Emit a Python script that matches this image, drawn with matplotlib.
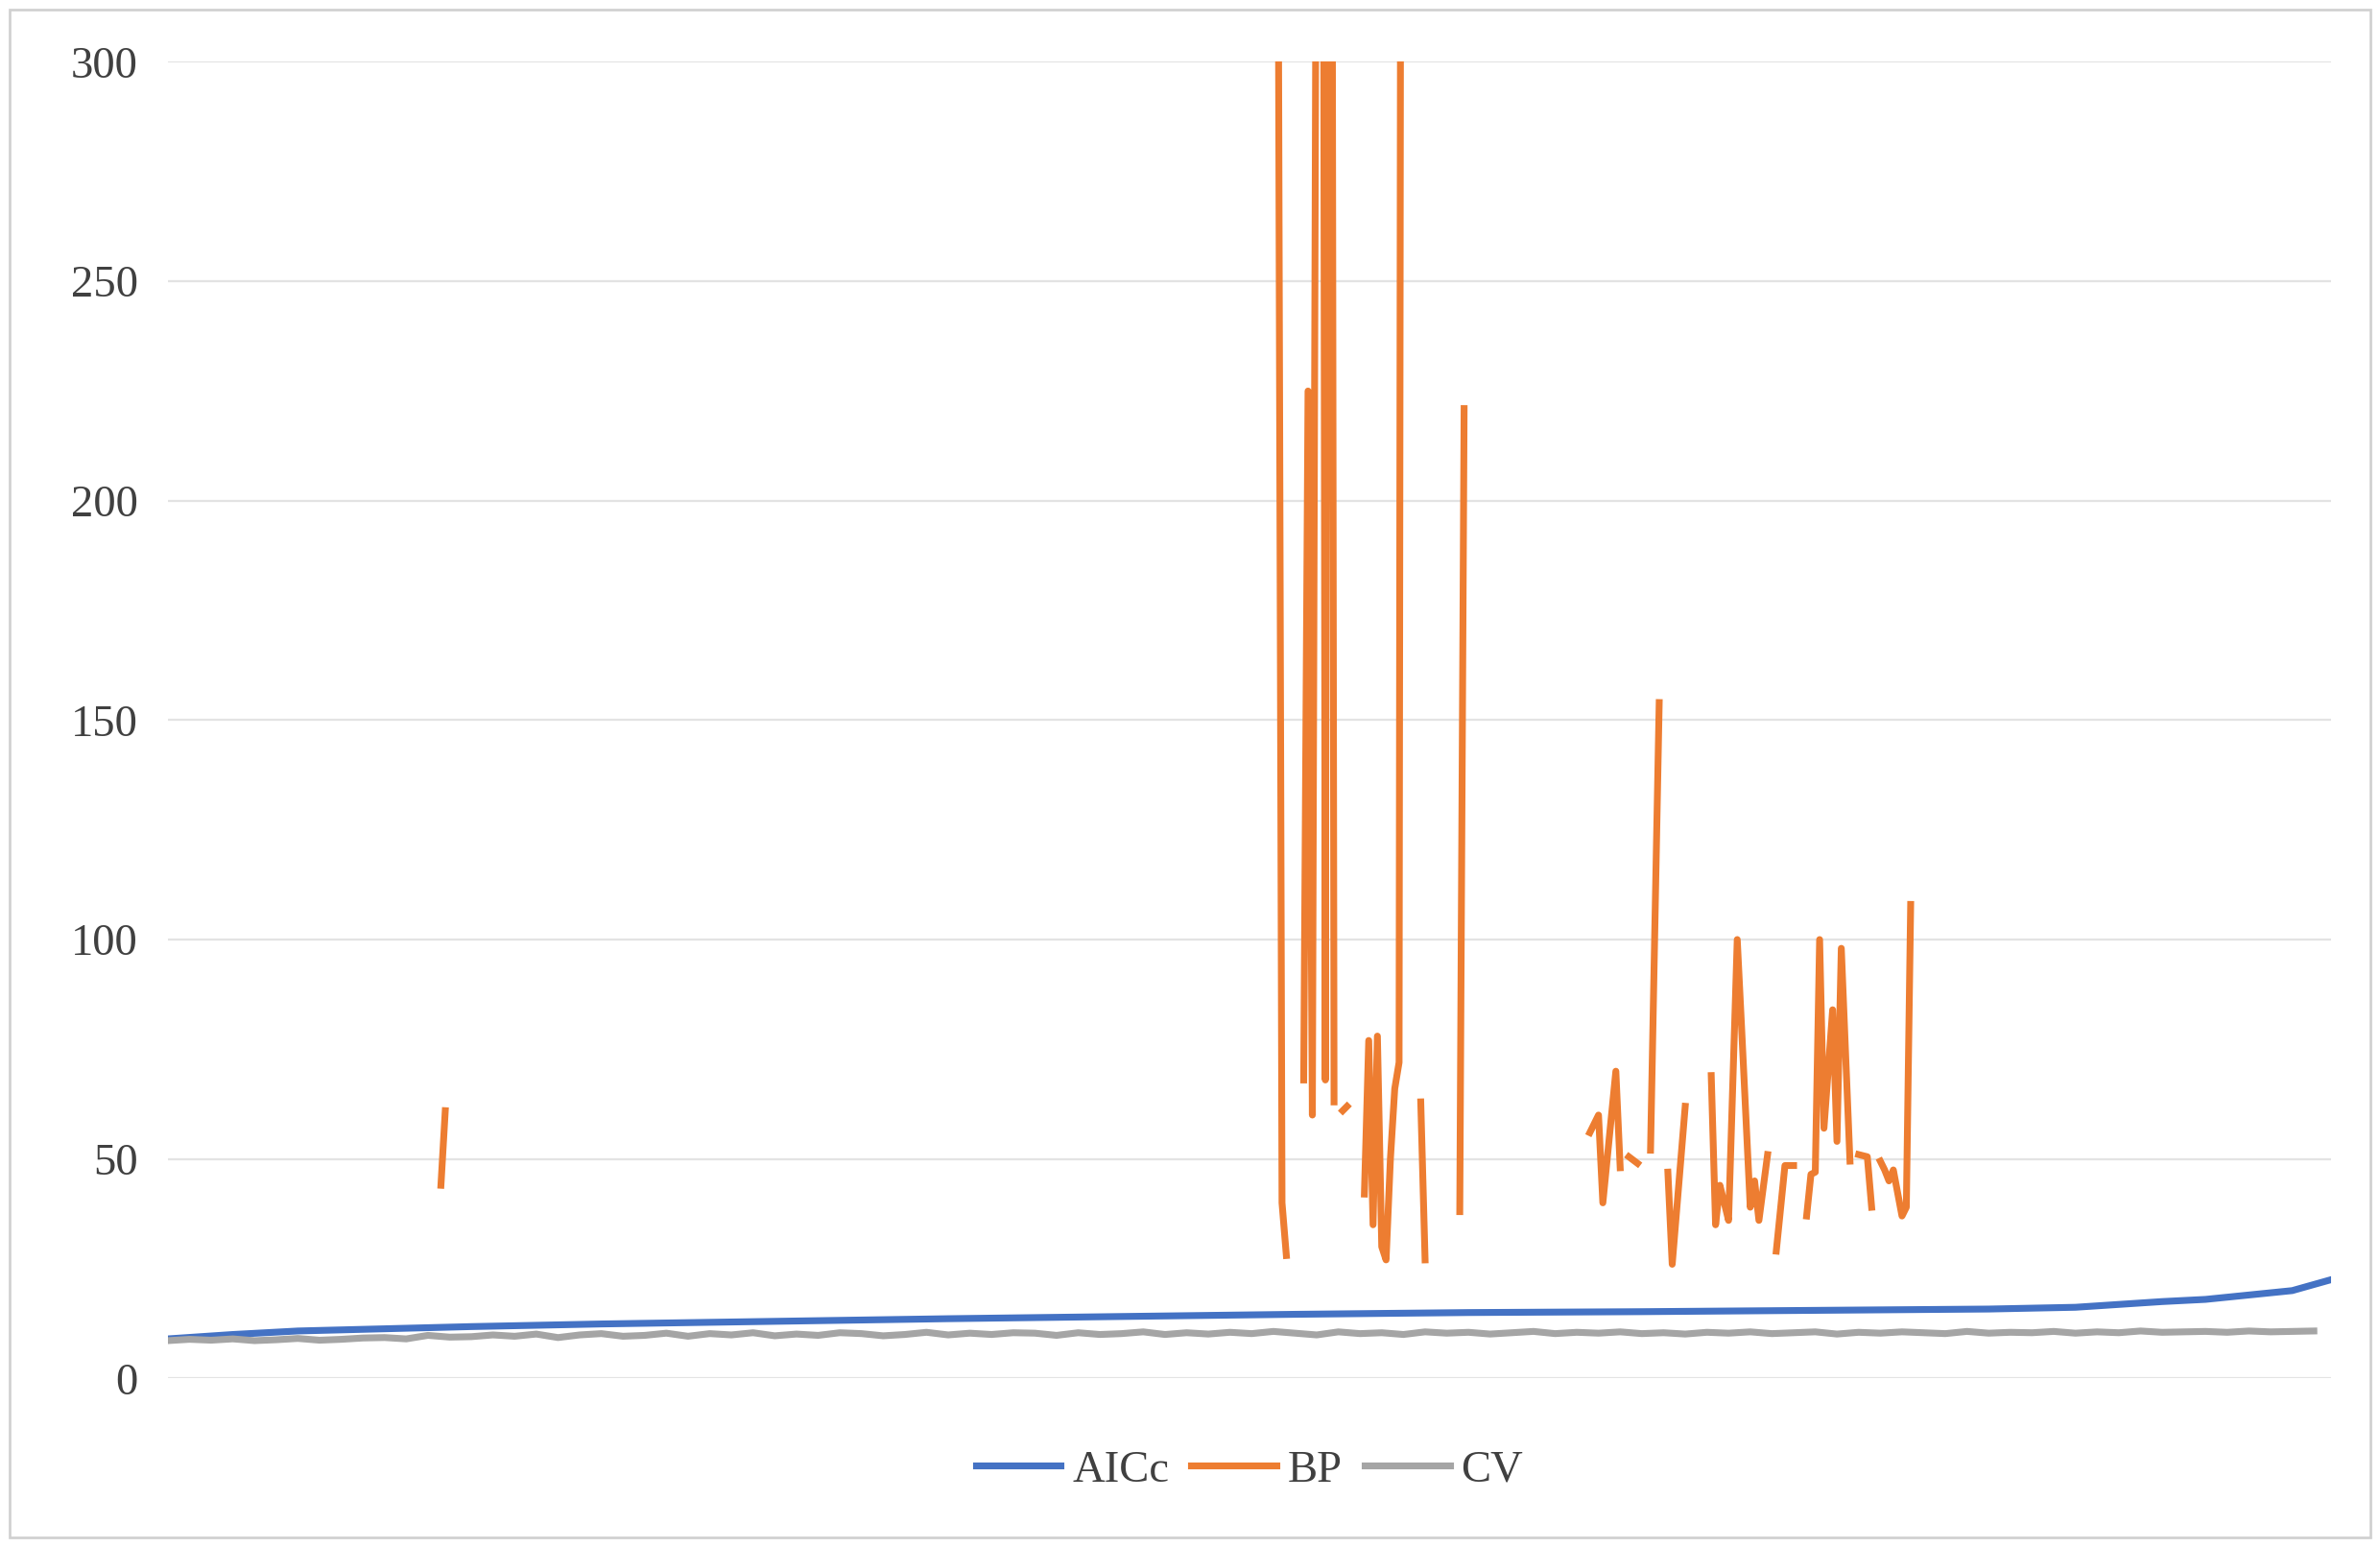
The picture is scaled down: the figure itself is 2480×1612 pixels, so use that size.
import numpy as np
import matplotlib
matplotlib.use("Agg")
import matplotlib.pyplot as plt
from matplotlib.patches import Rectangle

nan = np.nan
# x positions are sample indices (0..499)
bp_x = [63, 64, nan,
        255, 257, 258, nan,
        262, 263, 264, 266, 267, 268, 269, nan,
        271, 272, nan,
        276, 277, 278, 279, 280, 281, 282, 283, 284, 285, nan,
        289, 290, nan,
        298, 299, nan,
        328, 330, 331, 334, 335, nan, 337, 339, nan, 342, 344, nan,
        346, 347, 350, nan,
        356, 357, 358, 359, 360, 362, 363, 365, 366, 367, 369, nan,
        371, 373, 375, nan,
        378, 379, 380, 381, 382, 384, 385, 386, 388, nan,
        390, 392, 393, nan,
        395, 396, 397, 398, 400, 401, 402]
bp_y = [44, 61, nan,
        700, 40, 28, nan,
        68, 225, 60, 700, 68, 700, 63, nan,
        61, 62, nan,
        42, 77, 35, 78, 30, 27, 50, 66, 72, 800, nan,
        63, 27, nan,
        38, 221, nan,
        56, 60, 40, 70, 48, nan, 50.5, 49, nan, 52, 154, nan,
        47, 26, 62, nan,
        69, 35, 44, 40, 36, 100, 80, 39, 45, 36, 51, nan,
        29, 48.5, 48.5, nan,
        37, 46.5, 47, 100, 57, 84, 54, 98, 49.5, nan,
        51, 50.5, 39, nan,
        49.5, 47.5, 45, 47.5, 37, 39, 108]

aicc_x = [0, 15, 30, 50, 70, 100, 140, 180, 220, 260, 300, 340, 380, 420, 440, 460, 470, 480, 490, 499]
aicc_y = [9.0, 10.0, 10.8, 11.3, 11.8, 12.4, 13.0, 13.6, 14.1, 14.6, 15.0, 15.2, 15.5, 15.8, 16.2, 17.5, 18.0, 19.0, 20.0, 22.5]

cv_x = list(range(0, 500, 5))
cv_y = [8.6, 8.9, 8.7, 9.0, 8.6, 8.8, 9.1, 8.7, 8.9, 9.2, 9.3, 9.0, 9.8, 9.4, 9.5, 9.9, 9.6, 10.1, 9.3, 9.9,
        10.2, 9.6, 9.8, 10.3, 9.6, 10.2, 9.9, 10.4, 9.7, 10.1, 9.8, 10.4, 10.2, 9.7, 10.0, 10.5, 9.9, 10.3, 10.0, 10.4,
        10.3, 9.8, 10.4, 10.0, 10.2, 10.6, 10.0, 10.4, 10.1, 10.5, 10.2, 10.7, 10.3, 9.9, 10.6, 10.2, 10.4, 10.0, 10.6, 10.3,
        10.5, 10.1, 10.4, 10.7, 10.2, 10.5, 10.3, 10.6, 10.2, 10.4, 10.1, 10.5, 10.3, 10.6, 10.2, 10.4, 10.6, 10.1, 10.5, 10.3,
        10.6, 10.4, 10.2, 10.7, 10.3, 10.5, 10.4, 10.7, 10.3, 10.6, 10.4, 10.8, 10.5, 10.6, 10.7, 10.5, 10.8, 10.6, 10.7, 10.8]

yticks = [0, 50, 100, 150, 200, 250, 300]

plt.rcParams['font.family'] = ['Liberation Serif', 'DejaVu Serif']
fig = plt.figure(figsize=(15.5, 10.075), dpi=160)
fig.patches.append(Rectangle((0.004, 0.006), 0.992, 0.988, transform=fig.transFigure,
                             fill=False, edgecolor='#d0d0d0', lw=1.2))
ax = fig.add_axes([0.0705, 0.109, 0.909, 0.851])
ax.plot(aicc_x, aicc_y, color='#4472C4', lw=3.2, label='AICc', zorder=3)
ax.plot(bp_x, bp_y, color='#ED7D31', lw=3.2, label='BP', zorder=2)
ax.plot(cv_x, cv_y, color='#A5A5A5', lw=3.2, label='CV', zorder=3)
ax.set_xlim(0, 499)
ax.set_ylim(0, 300)
ax.set_yticks(yticks)
ax.set_xticks([])
ax.tick_params(axis='y', length=0, labelsize=21, pad=14, colors='#404040')
ax.grid(axis='y', color='#e3e3e3', lw=1.0)
ax.set_axisbelow(True)
for s in ax.spines.values():
    s.set_visible(False)
ax.legend(loc='center', bbox_to_anchor=(0.5, -0.07), ncol=3, frameon=False,
          fontsize=21, handlelength=1.9, columnspacing=0.5, handletextpad=0.25,
          labelcolor='#404040')
fig.savefig('out.png', dpi=160)
